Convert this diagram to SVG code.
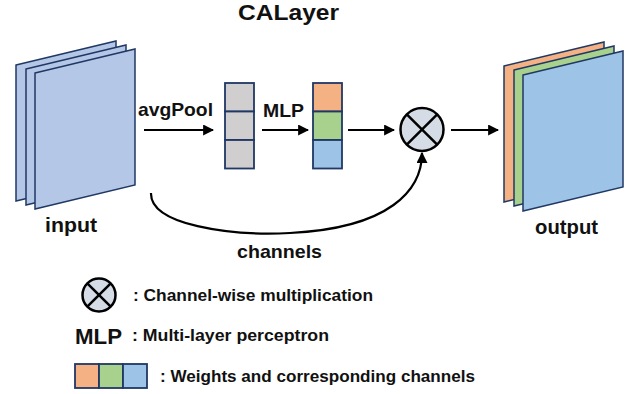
<svg xmlns="http://www.w3.org/2000/svg" width="632" height="394" viewBox="0 0 632 394">
<defs>
<style>
text{font-family:"Liberation Sans",Arial,sans-serif;font-weight:bold;fill:#111}
.sheet{stroke:#203864;stroke-width:1.5;stroke-linejoin:miter}
.cell{stroke:#203864;stroke-width:1.8}
.ln{stroke:#000;stroke-width:2.2;fill:none}
.gray{fill:#d0cece}.org{fill:#f4b183}.grn{fill:#a9d18e}.blu{fill:#9dc3e6}.inb{fill:#b4c7e7}
</style>
<marker id="ah" viewBox="0 0 10 10" refX="9" refY="5" markerWidth="5" markerHeight="5" orient="auto" markerUnits="strokeWidth">
<path d="M0,0 L10,5 L0,10 z" fill="#000"/>
</marker>
<path id="sh" d="M0,0 L100,-24 L100,112 L0,136 Z"/>
</defs>
<rect width="632" height="394" fill="#fff"/>
<text x="238" y="20" font-size="22" textLength="101" lengthAdjust="spacingAndGlyphs">CALayer</text>
<g id="input">
<use href="#sh" x="16" y="65" class="sheet inb"/>
<use href="#sh" x="26" y="69" class="sheet inb"/>
<use href="#sh" x="35" y="73" class="sheet inb"/>
<text x="45" y="232" font-size="20" textLength="52" lengthAdjust="spacingAndGlyphs">input</text>
</g>
<g id="pooled">
<rect x="225" y="83" width="29" height="28.5" class="cell gray"/>
<rect x="225" y="111.5" width="29" height="28.5" class="cell gray"/>
<rect x="225" y="140" width="29" height="28.5" class="cell gray"/>
</g>
<g id="weights">
<rect x="313" y="83" width="29" height="28.5" class="cell org"/>
<rect x="313" y="111.5" width="29" height="28.5" class="cell grn"/>
<rect x="313" y="140" width="29" height="28.5" class="cell blu"/>
</g>
<g id="mult">
<circle cx="422" cy="129.5" r="21.5" fill="#d6dce5" stroke="#000" stroke-width="2.5"/>
<line x1="406.8" y1="114.3" x2="437.2" y2="144.7" stroke="#000" stroke-width="2.5"/>
<line x1="437.2" y1="114.3" x2="406.8" y2="144.7" stroke="#000" stroke-width="2.5"/>
</g>
<g id="output">
<use href="#sh" x="504" y="66" class="sheet org"/>
<use href="#sh" x="514" y="70" class="sheet grn"/>
<use href="#sh" x="523" y="75" class="sheet blu"/>
<text x="535" y="234" font-size="20" textLength="63" lengthAdjust="spacingAndGlyphs">output</text>
</g>
<g id="connectors">
<line x1="144" y1="130" x2="213" y2="130" class="ln" marker-end="url(#ah)"/>
<line x1="262" y1="130" x2="308" y2="130" class="ln" marker-end="url(#ah)"/>
<line x1="348" y1="130" x2="394" y2="130" class="ln" marker-end="url(#ah)"/>
<line x1="451" y1="130" x2="498" y2="130" class="ln" marker-end="url(#ah)"/>
<path d="M151,193 C150,225 230,236 290,233 C390,228 422,190 422,153" class="ln" marker-end="url(#ah)"/>
<text x="138" y="116" font-size="19" textLength="75" lengthAdjust="spacingAndGlyphs">avgPool</text>
<text x="263" y="117" font-size="19" textLength="41" lengthAdjust="spacingAndGlyphs">MLP</text>
<text x="237" y="258" font-size="19" textLength="85" lengthAdjust="spacingAndGlyphs">channels</text>
</g>
<g id="legend">
<circle cx="99" cy="295" r="16.5" fill="#d6dce5" stroke="#000" stroke-width="2.5"/>
<line x1="87.3" y1="283.3" x2="110.7" y2="306.7" stroke="#000" stroke-width="2.5"/>
<line x1="110.7" y1="283.3" x2="87.3" y2="306.7" stroke="#000" stroke-width="2.5"/>
<text x="133" y="301" font-size="17" textLength="240" lengthAdjust="spacingAndGlyphs">: Channel-wise multiplication</text>
<text x="75" y="344" font-size="22" textLength="47" lengthAdjust="spacingAndGlyphs">MLP</text>
<text x="132" y="341" font-size="17" textLength="197" lengthAdjust="spacingAndGlyphs">: Multi-layer perceptron</text>
<rect x="75" y="364" width="24" height="24" class="cell org"/>
<rect x="99" y="364" width="24" height="24" class="cell grn"/>
<rect x="123" y="364" width="24" height="24" class="cell blu"/>
<text x="160" y="382" font-size="17" textLength="315" lengthAdjust="spacingAndGlyphs">: Weights and corresponding channels</text>
</g>
</svg>
